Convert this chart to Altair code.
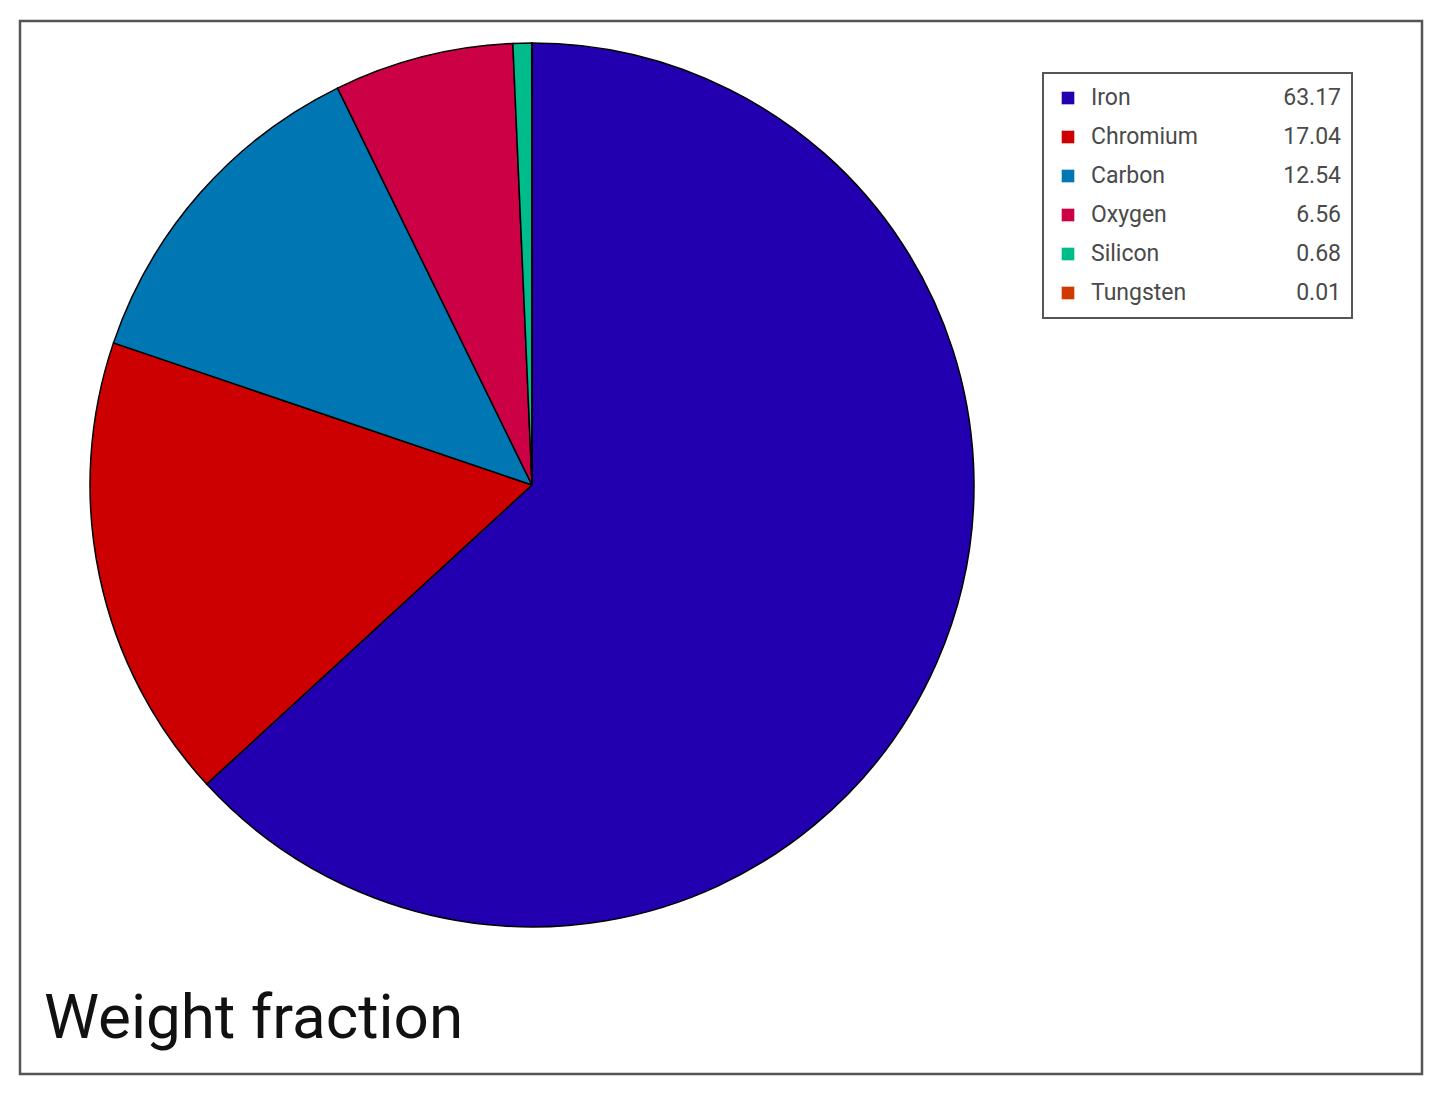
import altair as alt
import pandas as pd

elements = ["Iron", "Chromium", "Carbon", "Oxygen", "Silicon", "Tungsten"]
fractions = [63.17, 17.04, 12.54, 6.56, 0.68, 0.01]
labels = ["63.17", "17.04", "12.54", "6.56", "0.68", "0.01"]
colors = ["#2200AF", "#CC0000", "#0077B3", "#CC0044", "#00BB8A", "#D03A00"]
title_text = ["Weight fraction"]

df = pd.DataFrame({"element": elements, "fraction": fractions, "label": labels,
                   "idx": list(range(len(elements)))})
tdf = pd.DataFrame({"t": title_text})

color = alt.Color("element:N", scale=alt.Scale(domain=elements, range=colors), legend=None)
ylegend = alt.Y("element:N", sort=elements, axis=None,
                scale=alt.Scale(type="point", range=[77, 272], padding=0))

base = alt.Chart(df)

pie = base.mark_arc(stroke="#000000", strokeWidth=1.5).encode(
    theta=alt.Theta("fraction:Q", stack=True),
    order=alt.Order("idx:Q"),
    color=color,
    x=alt.value(512), y=alt.value(464),
    radius=alt.value(442),
)

box = base.transform_filter("datum.idx == 0").mark_rect(
    fill="white", stroke="#555555", strokeWidth=2).encode(
    x=alt.value(1023), x2=alt.value(1332), y=alt.value(52), y2=alt.value(297))

squares = base.mark_square(size=160, opacity=1).encode(
    x=alt.value(1048), y=ylegend, color=color)

names = base.mark_text(align="left", baseline="middle", font="Roboto", fontSize=23,
                       color="#4a4a4a").encode(
    x=alt.value(1071), y=ylegend, text="element:N")

vals = base.mark_text(align="right", baseline="middle", font="Roboto", fontSize=23,
                      color="#4a4a4a").encode(
    x=alt.value(1321), y=ylegend, text="label:N")

title = alt.Chart(tdf).mark_text(align="left", baseline="alphabetic", font="Roboto",
                                 fontSize=62, color="#111111").encode(
    x=alt.value(24), y=alt.value(1017), text="t:N")

chart = alt.layer(pie, box, squares, names, vals, title).properties(
    width=1402, height=1053,
    padding={"left": 12, "top": 13, "right": 10, "bottom": 10},
).configure_view(stroke="#555555", strokeWidth=2.5).resolve_scale(color="shared")

chart.save("out.html", embed_options={"renderer": "svg", "actions": False})
